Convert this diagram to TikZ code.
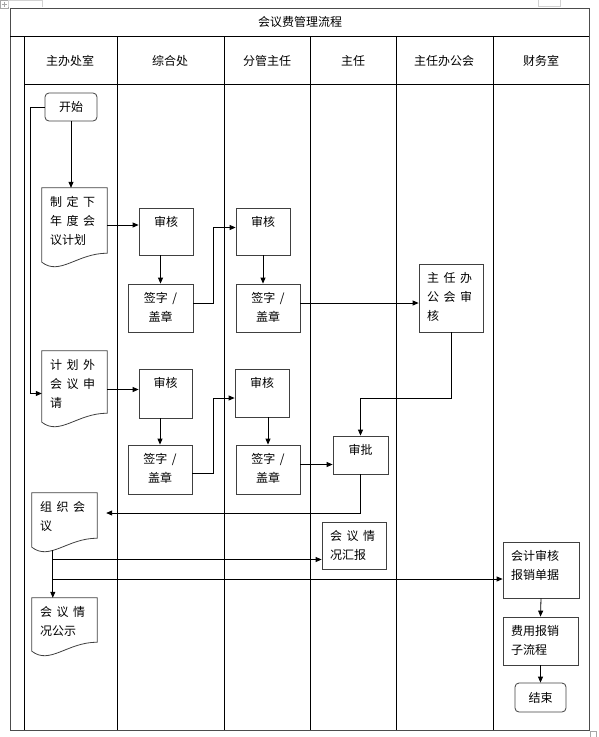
\documentclass[tikz,border=0pt]{standalone}
\usepackage{fontspec}
\setmainfont[WordSpace=1.7]{Noto Sans CJK SC}
\usetikzlibrary{positioning, arrows.meta, calc}
% text set at the top of a fixed-size box (width, height in px)
\newcommand{\boxtext}[3]{\parbox[c][\dimexpr#2pt-16pt\relax][t]{\dimexpr#1pt-16pt\relax}{#3}}
% document outline with wavy bottom
\newcommand{\docoutline}[1]{%
  \draw[boxline] (#1.north west) -- (#1.north east)
    -- ($(#1.south east)+(0,9pt)$)
    .. controls ($(#1.south east)+(-30pt,9pt)$) and ($(#1.south west)+(18pt,-14pt)$)
    .. (#1.south west) -- cycle;}

\begin{document}
\begin{tikzpicture}[
  x=1pt, y=-1pt,
  font=\fontsize{12}{19}\selectfont,
  boxline/.style={draw=black!75, line width=0.8pt},
  box/.style={boxline, inner sep=8pt},
  doc/.style={draw=none, inner sep=8pt},
  term/.style={boxline, rounded corners=4pt, inner sep=0pt},
  lane/.style={line width=0.9pt},
  flow/.style={line width=0.8pt, -{Triangle[length=6pt,width=5pt]}},
]
\useasboundingbox (0,0) rectangle (598,737);

% ---- screen handles around the table ----
\draw[gray!70, line width=0.5pt] (0.5,0.5) rectangle (8,8);
\draw[gray!70, line width=0.5pt] (4.2,1.5) -- (4.2,7) (1.5,4.2) -- (7,4.2);
\draw[gray!35, line width=0.6pt] (8,7) -- (8,0.3) -- (42,0.3) -- (42,7);
\draw[gray!35, line width=0.6pt] (538,0) -- (538,6) -- (560,6) -- (560,0);
\draw[gray!70, line width=0.5pt] (590,731) rectangle (596,737);

% ---- table frame ----
\draw[lane, black!70] (10,8) rectangle (589,730);
\draw[lane] (10,36) -- (589,36);
\draw[lane] (24,36) -- (24,730);
\draw[lane] (24,84) -- (589,84);
\foreach \x in {117,224,310,396,493}
  \draw[lane] (\x,36) -- (\x,730);

\node (title) at (300,22) {会议费管理流程};
\foreach \x/\t/\n in {70/主办处室/hzb, 170/综合处/hzh, 267/分管主任/hfg,
                      353/主任/hzr, 444/主任办公会/hbg, 541/财务室/hcw}
  \node (\n) at (\x,61) {\t};

% ---- 主办处室 ----
\node[term, minimum width=52pt, minimum height=28pt] (start) at (71,107) {开始};
\node[doc] (plan)    at (74.5,225)   {\boxtext{65}{74}{制 定 下\\年 度 会\\议计划}};
\node[doc] (outplan) at (74.5,386.5) {\boxtext{65}{71}{计 划 外\\会 议 申\\请}};
\node[doc] (org)     at (64.5,520)   {\boxtext{65}{54}{组 织 会\\议}};
\node[doc] (pub)     at (64.5,624.5) {\boxtext{65}{53}{会 议 情\\况公示}};
\docoutline{plan}
\docoutline{outplan}
\docoutline{org}
\docoutline{pub}

% ---- 综合处 / 分管主任 ----
\node[box] (chka) at (166,231.5) {\boxtext{54}{47}{\centering 审核}};
\node[box] (siga) at (160.5,308) {\boxtext{65}{48}{\centering 签字 /\\盖章}};
\node[box] (chkb) at (263,231.5) {\boxtext{54}{47}{\centering 审核}};
\node[box] (sigb) at (268,308)   {\boxtext{64}{48}{\centering 签字 /\\盖章}};
\node[box] (chkc) at (165.5,393.5) {\boxtext{53}{49}{\centering 审核}};
\node[box] (sigc) at (160,469.5)   {\boxtext{64}{49}{\centering 签字 /\\盖章}};
\node[box] (chkd) at (262,393)   {\boxtext{54}{48}{\centering 审核}};
\node[box] (sigd) at (268,469.5) {\boxtext{64}{49}{\centering 签字 /\\盖章}};

% ---- 主任 / 主任办公会 ----
\node[box] (zhb) at (451,298)   {\boxtext{64}{68}{主 任 办\\公 会 审\\核}};
\node[box] (sp)  at (360.5,455) {\boxtext{55}{38}{\centering 审批}};
\node[box] (hb)  at (354,545.5) {\boxtext{64}{47}{会 议 情\\况汇报}};

% ---- 财务室 ----
\node[box] (kj) at (541,570)   {\boxtext{76}{56}{会计审核\\报销单据}};
\node[box] (fy) at (540.5,641) {\boxtext{75}{48}{费用报销\\子流程}};
\node[term, minimum width=51pt, minimum height=29pt] (end) at (540.5,697.5) {结束};

% ---- connectors ----
\draw[flow] (start.south) -- (start.south |- plan.north);
\draw[flow] (start.west) -- ++(-14,0) |- ([yshift=-7pt]outplan.west);
\draw[flow] (plan.east) -- (plan.east -| chka.west);
\draw[flow] (chka.south -| siga.north) -- (siga.north);
\draw[flow] ([yshift=5pt]siga.east) -- ++(20,0) |- ([yshift=4pt]chkb.west);
\draw[flow] (chkb.south) -- (chkb.south |- sigb.north);
\draw[flow] ([yshift=5pt]sigb.east) -- ([yshift=5pt]sigb.east -| zhb.west);
\draw[flow] (zhb.south) -- ++(0,66) -| (sp.north);
\draw[flow] ([yshift=-3pt]outplan.east) -- ([yshift=-3pt]outplan.east -| chkc.west);
\draw[flow] (chkc.south -| sigc.north) -- (sigc.north);
\draw[flow] ([yshift=-4pt]sigc.east) -- ++(21,0) |- ([yshift=-5pt]chkd.west);
\draw[flow] (chkd.south -| sigd.north) -- (sigd.north);
\draw[flow] ([yshift=5pt]sigd.east) -- ([yshift=5pt]sigd.east -| sp.west);
\draw[flow] (sp.south) |- ([xshift=9pt,yshift=7pt]org.east);
\coordinate (orgout) at ($(org.south west)+(21pt,-3pt)$);
\draw[flow] (orgout) -- (orgout |- pub.north);
\coordinate (hbin) at ([yshift=-14pt]hb.west);
\draw[flow] (orgout |- hbin) -- (hbin);
\coordinate (kjin) at ([yshift=-9pt]kj.west);
\draw[flow] (orgout |- kjin) -- (kjin);
\draw[flow] (kj.south) -- (fy.north);
\draw[flow] (fy.south) -- (end.north);

\end{tikzpicture}
\end{document}
